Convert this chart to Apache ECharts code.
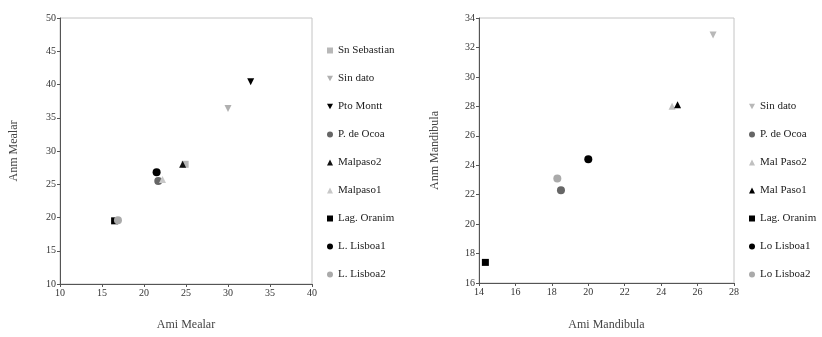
<!DOCTYPE html>
<html>
<head>
<meta charset="utf-8">
<script src="https://cdn.jsdelivr.net/npm/echarts@6/dist/echarts.min.js"></script>
<style>
  body { margin: 0; background: #fff; }
  #left, #right { position: absolute; top: 0; width: 411px; height: 337px; }
  #left { left: 0; }
  #right { left: 411px; }
</style>
</head>
<body>
<div id="left"></div>
<div id="right"></div>
<script>
// left panel: maxilar
const leftNames = ['Sn Sebastian', 'Sin dato', 'Pto Montt', 'P. de Ocoa', 'Malpaso2', 'Malpaso1', 'Lag. Oranim', 'L. Lisboa1', 'L. Lisboa2'];
const leftPoints = [
  [[24.9, 28.0]],
  [[30.0, 36.4]],
  [[32.7, 40.4]],
  [[21.7, 25.5]],
  [[24.6, 28.0]],
  [[22.2, 25.7]],
  [[16.5, 19.5]],
  [[21.5, 26.8]],
  [[16.9, 19.6]]
];
const leftSymbols = ['rect', 'down', 'down', 'circle', 'triangle', 'triangle', 'rect', 'circle', 'circle'];
const leftColors = ['#b8b8b8', '#b0b0b0', '#000', '#666', '#111', '#c8c8c8', '#000', '#000', '#aaa'];

// right panel: mandibula
const rightNames = ['Sin dato', 'P. de Ocoa', 'Mal Paso2', 'Mal Paso1', 'Lag. Oranim', 'Lo Lisboa1', 'Lo Lisboa2'];
const rightPoints = [
  [[26.85, 32.85]],
  [[18.5, 22.3]],
  [[24.6, 28.0]],
  [[24.9, 28.1]],
  [[14.35, 17.4]],
  [[20.0, 24.4]],
  [[18.3, 23.1]]
];
const rightSymbols = ['down', 'circle', 'triangle', 'triangle', 'rect', 'circle', 'circle'];
const rightColors = ['#b8b8b8', '#666', '#c0c0c0', '#000', '#000', '#000', '#aaa'];

const font = 'Liberation Serif';
const downTriangle = 'path://M0,0 L10,0 L5,9 Z';

const axisStyle = (name, min, max, interval, gap) => ({
  type: 'value',
  name: name,
  nameLocation: 'middle',
  nameGap: gap,
  nameTextStyle: { fontFamily: font, fontSize: 12, color: '#444' },
  min: min,
  max: max,
  interval: interval,
  axisLine: { show: true, lineStyle: { color: '#555', width: 1 } },
  axisTick: { show: true, length: 3, lineStyle: { color: '#555' } },
  axisLabel: { fontFamily: font, fontSize: 10, color: '#333', margin: 4 },
  splitLine: { show: false }
});

const buildOption = (names, points, symbols, colors, grid, xAxis, yAxis, legendLeft, legendTop) => ({
  animation: false,
  grid: Object.assign({ show: true, borderColor: '#c4c4c4', borderWidth: 1, backgroundColor: '#fff' }, grid),
  xAxis: xAxis,
  yAxis: yAxis,
  legend: {
    orient: 'vertical',
    left: legendLeft,
    top: legendTop,
    itemWidth: 6,
    itemHeight: 6,
    itemGap: 17,
    textStyle: { fontFamily: font, fontSize: 11, color: '#222' },
    data: names
  },
  series: names.map((n, i) => ({
    name: n,
    type: 'scatter',
    data: points[i],
    symbol: symbols[i] === 'down' ? downTriangle : symbols[i],
    symbolSize: symbols[i] === 'circle' ? 8 : 7,
    itemStyle: { color: colors[i], opacity: 1 }
  }))
});

const leftChart = echarts.init(document.getElementById('left'));
leftChart.setOption(buildOption(
  leftNames, leftPoints, leftSymbols, leftColors,
  { left: 57, top: 18, width: 255, height: 266 },
  axisStyle('Ami Mealar', 10, 40, 5, 35),
  axisStyle('Anm Mealar', 10, 50, 5, 40),
  322, 40
));

const rightChart = echarts.init(document.getElementById('right'));
rightChart.setOption(buildOption(
  rightNames, rightPoints, rightSymbols, rightColors,
  { left: 68, top: 18, width: 255, height: 265 },
  axisStyle('Ami Mandibula', 14, 28, 2, 36),
  axisStyle('Anm Mandibula', 16, 34, 2, 38),
  333, 96
));
</script>
</body>
</html>
